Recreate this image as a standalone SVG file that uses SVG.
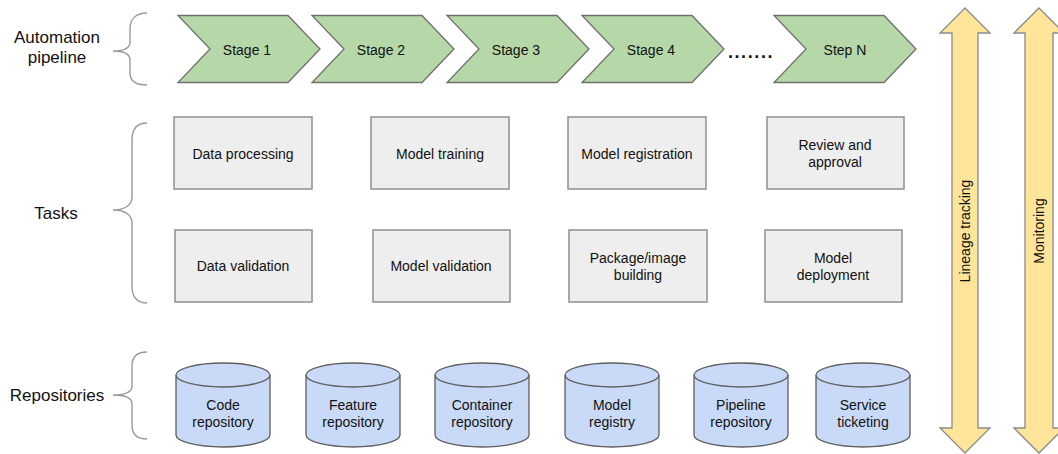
<svg xmlns="http://www.w3.org/2000/svg" width="1058" height="454" viewBox="0 0 1058 454">
<style>
text{font-family:"Liberation Sans",Arial,sans-serif;fill:#111;text-anchor:middle}
.lbl{font-size:17px}
.t{font-size:14px}
.chev{fill:#b6d7a8;stroke:#6f6f6f;stroke-width:1.3}
.box{fill:#eeeeee;stroke:#8f8f8f;stroke-width:1.5}
.cyl{fill:#c9daf8;stroke:#5f5f5f;stroke-width:1.3}
.arr{fill:#ffe599;stroke:#8a8a8a;stroke-width:1.3}
.brace{fill:none;stroke:#9a9a9a;stroke-width:1.4}
</style>
<defs>
<polygon id="chevron" points="0,15.5 110,15.5 142,49 110,82.5 0,82.5 32,49"/>
<g id="cylinder">
<path d="M-47,375 L-47,435 A47,12 0 0 0 47,435 L47,375"/>
<ellipse cx="0" cy="375" rx="47" ry="12"/>
</g>
</defs>

<g id="braces">
<path class="brace" d="M147,13 C136,13 130,19 130,29 L130,42 C130,48 124,51 113,51 C124,51 130,54 130,60 L130,73 C130,81 136,85 147,85"/>
<path class="brace" d="M147,123 C137,123 132,129 132,140 L132,197 C132,205 125,210 113,210 C125,210 132,215 132,223 L132,286 C132,297 137,303 147,303"/>
<path class="brace" d="M147,352 C137,352 132,357 132,366 L132,386 C132,392 125,395 113,395 C125,395 132,398 132,404 L132,425 C132,434 137,439 147,439"/>
</g>

<g id="labels">
<text class="lbl" x="57" y="43">Automation</text>
<text class="lbl" x="57" y="63">pipeline</text>
<text class="lbl" x="56" y="219">Tasks</text>
<text class="lbl" x="57" y="401">Repositories</text>
</g>

<g id="stage1"><use href="#chevron" class="chev" x="178"/><text class="t" x="247" y="55">Stage 1</text></g>
<g id="stage2"><use href="#chevron" class="chev" x="312"/><text class="t" x="381" y="55">Stage 2</text></g>
<g id="stage3"><use href="#chevron" class="chev" x="447"/><text class="t" x="516" y="55">Stage 3</text></g>
<g id="stage4"><use href="#chevron" class="chev" x="582"/><text class="t" x="651" y="55">Stage 4</text></g>
<g id="dots"><text x="751" y="58" style="font-size:18px;font-weight:bold;letter-spacing:1.6px">.......</text></g>
<g id="stepN"><use href="#chevron" class="chev" x="774"/><text class="t" x="845" y="55">Step N</text></g>

<g id="task-data-processing"><rect class="box" x="174" y="117" width="138" height="72"/><text class="t" x="243" y="159">Data processing</text></g>
<g id="task-model-training"><rect class="box" x="371" y="117" width="138" height="72"/><text class="t" x="440" y="159">Model training</text></g>
<g id="task-model-registration"><rect class="box" x="568" y="117" width="138" height="72"/><text class="t" x="637" y="159">Model registration</text></g>
<g id="task-review"><rect class="box" x="767" y="117" width="137" height="72"/><text class="t" x="835" y="150">Review and</text><text class="t" x="835" y="167">approval</text></g>
<g id="task-data-validation"><rect class="box" x="175" y="230" width="137" height="72"/><text class="t" x="243" y="271">Data validation</text></g>
<g id="task-model-validation"><rect class="box" x="373" y="230" width="137" height="72"/><text class="t" x="441" y="271">Model validation</text></g>
<g id="task-package"><rect class="box" x="569" y="230" width="138" height="72"/><text class="t" x="638" y="263">Package/image</text><text class="t" x="638" y="280">building</text></g>
<g id="task-deployment"><rect class="box" x="765" y="230" width="137" height="72"/><text class="t" x="833" y="263">Model</text><text class="t" x="833" y="280">deployment</text></g>

<g id="repo-code"><use href="#cylinder" class="cyl" x="223"/><text class="t" x="223" y="410">Code</text><text class="t" x="223" y="427">repository</text></g>
<g id="repo-feature"><use href="#cylinder" class="cyl" x="353"/><text class="t" x="353" y="410">Feature</text><text class="t" x="353" y="427">repository</text></g>
<g id="repo-container"><use href="#cylinder" class="cyl" x="482"/><text class="t" x="482" y="410">Container</text><text class="t" x="482" y="427">repository</text></g>
<g id="repo-model"><use href="#cylinder" class="cyl" x="612"/><text class="t" x="612" y="410">Model</text><text class="t" x="612" y="427">registry</text></g>
<g id="repo-pipeline"><use href="#cylinder" class="cyl" x="741"/><text class="t" x="741" y="410">Pipeline</text><text class="t" x="741" y="427">repository</text></g>
<g id="repo-service"><use href="#cylinder" class="cyl" x="863"/><text class="t" x="863" y="410">Service</text><text class="t" x="863" y="427">ticketing</text></g>

<g id="lineage-tracking">
<polygon class="arr" points="965,8 990,33 978,33 978,428 990,428 965,453 940,428 952,428 952,33 940,33"/>
<text class="t" transform="translate(970,231) rotate(-90)">Lineage tracking</text>
</g>
<g id="monitoring">
<polygon class="arr" points="1039,8 1064,33 1053,33 1053,428 1064,428 1039,453 1014,428 1025,428 1025,33 1014,33"/>
<text class="t" transform="translate(1044,231) rotate(-90)">Monitoring</text>
</g>
</svg>
